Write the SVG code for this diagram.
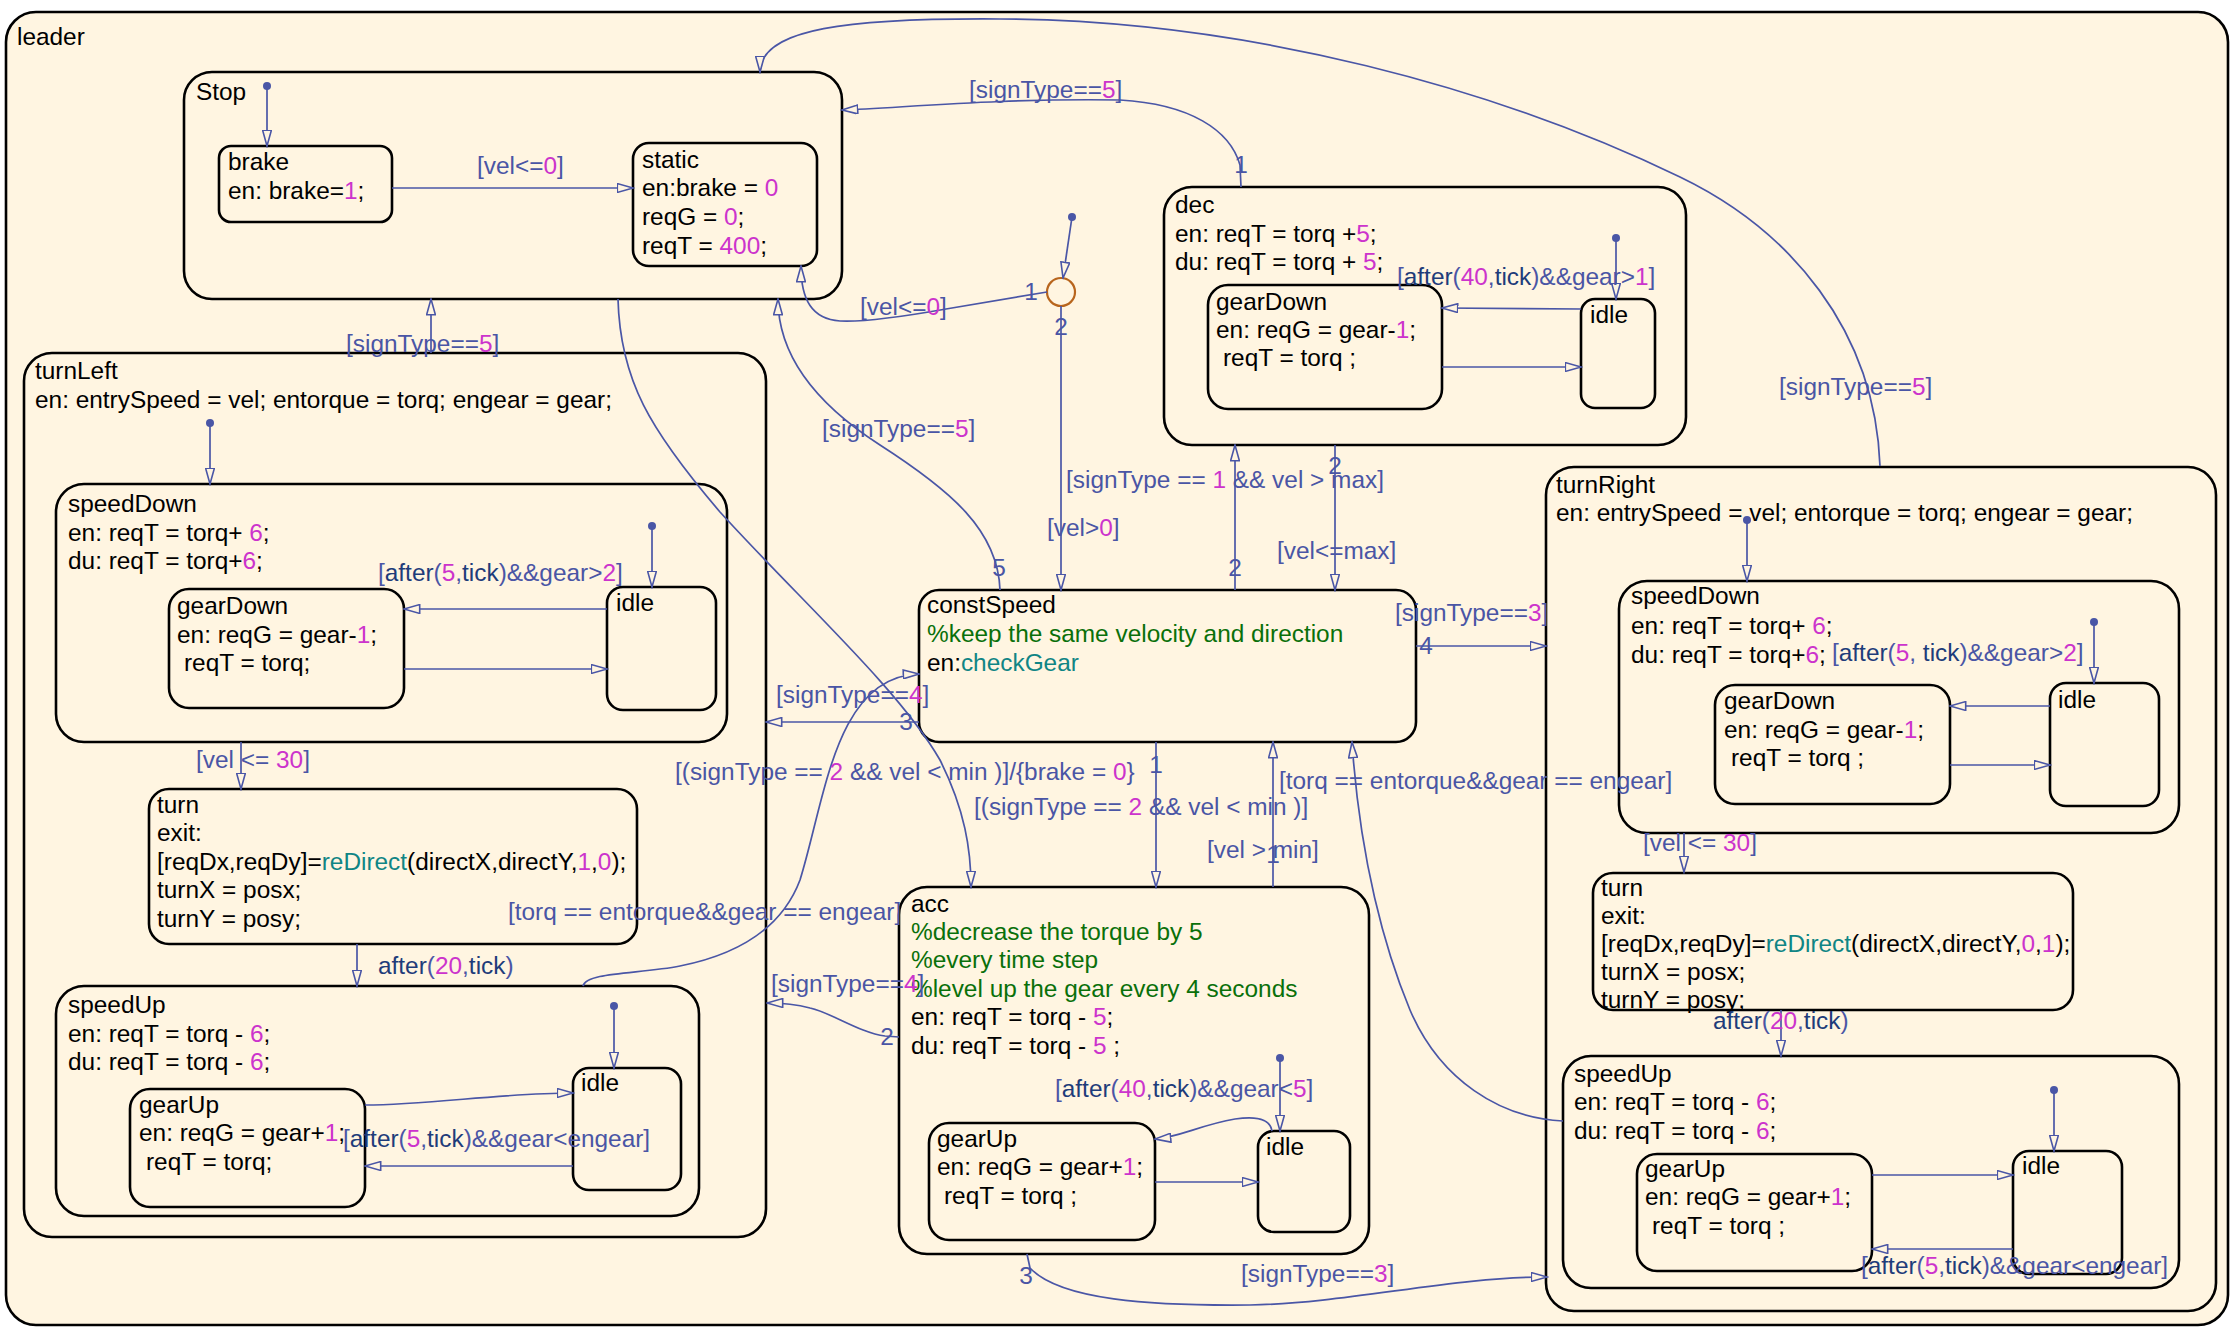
<svg xmlns="http://www.w3.org/2000/svg" width="2239" height="1337" viewBox="0 0 2239 1337">
<style>
text{font-family:"Liberation Sans",Arial,sans-serif;font-size:24.4px;fill:#000}
.st{fill:#FFF5E1;stroke:#000;stroke-width:2.6}
.c{fill:none;stroke:#4A56A6;stroke-width:1.7}
.l{fill:#4A55A5}
.num{fill:#4A55A5;text-anchor:middle}
.n{fill:#CC33CC}
.g{fill:#0A700A}
.f{fill:#108585}
.k{fill:#1E3C7A}
.dot{fill:#4A56A6}
.jn{fill:#FFF5E1;stroke:#B8651D;stroke-width:2.2}
</style>
<defs>
<marker id="a" viewBox="0 0 18 10" markerWidth="18" markerHeight="10" refX="16.5" refY="5" orient="auto" markerUnits="userSpaceOnUse">
<path d="M0.8,0.6 L16.5,5 L0.8,9.4 z" fill="#FFF5E1" stroke="#4A56A6" stroke-width="1.6"/>
</marker>
</defs>
<rect x="0" y="0" width="2239" height="1337" fill="#fff"/>
<g id="leader">
<rect class="st" x="6" y="12" width="2222" height="1313" rx="30"/>
<text x="17" y="45">leader</text>
</g>
<g id="Stop">
<rect class="st" x="184" y="72" width="658" height="227" rx="28"/>
<text x="196" y="100">Stop</text>
</g>
<g id="brake">
<rect class="st" x="219" y="146" width="173" height="76" rx="12"/>
<text x="228" y="170">brake</text>
<text x="228" y="199">en: brake=<tspan class="n">1</tspan>;</text>
</g>
<g id="static">
<rect class="st" x="633" y="143" width="184" height="123" rx="16"/>
<text x="642" y="168">static</text>
<text x="642" y="196">en:brake = <tspan class="n">0</tspan></text>
<text x="642" y="225">reqG = <tspan class="n">0</tspan>;</text>
<text x="642" y="254">reqT = <tspan class="n">400</tspan>;</text>
</g>
<g id="junction">
<circle class="jn" cx="1061" cy="292" r="14"/>
</g>
<g id="dec">
<rect class="st" x="1164" y="187" width="522" height="258" rx="28"/>
<text x="1175" y="213">dec</text>
<text x="1175" y="242">en: reqT = torq +<tspan class="n">5</tspan>;</text>
<text x="1175" y="270">du: reqT = torq + <tspan class="n">5</tspan>;</text>
</g>
<g id="dec_gearDown">
<rect class="st" x="1208" y="285" width="234" height="124" rx="20"/>
<text x="1216" y="310">gearDown</text>
<text x="1216" y="338">en: reqG = gear-<tspan class="n">1</tspan>;</text>
<text x="1223" y="366">reqT = torq ;</text>
</g>
<g id="dec_idle">
<rect class="st" x="1581" y="299" width="74" height="109" rx="14"/>
<text x="1590" y="323">idle</text>
</g>
<g id="constSpeed">
<rect class="st" x="919" y="590" width="497" height="152" rx="20"/>
<text x="927" y="613">constSpeed</text>
<text x="927" y="642" class="g">%keep the same velocity and direction</text>
<text x="927" y="671">en:<tspan class="f">checkGear</tspan></text>
</g>
<g id="turnLeft">
<rect class="st" x="24" y="353" width="742" height="884" rx="28"/>
<text x="35" y="379">turnLeft</text>
<text x="35" y="408">en: entrySpeed = vel; entorque = torq; engear = gear;</text>
</g>
<g id="turnLeft_speedDown">
<rect class="st" x="56" y="484" width="671" height="258" rx="28"/>
<text x="68" y="512">speedDown</text>
<text x="68" y="541">en: reqT = torq+ <tspan class="n">6</tspan>;</text>
<text x="68" y="569">du: reqT = torq+<tspan class="n">6</tspan>;</text>
</g>
<g id="turnLeft_gearDown">
<rect class="st" x="169" y="589" width="235" height="119" rx="20"/>
<text x="177" y="614">gearDown</text>
<text x="177" y="643">en: reqG = gear-<tspan class="n">1</tspan>;</text>
<text x="184" y="671">reqT = torq;</text>
</g>
<g id="turnLeft_idle1">
<rect class="st" x="607" y="587" width="109" height="123" rx="16"/>
<text x="616" y="611">idle</text>
</g>
<g id="turnLeft_turn">
<rect class="st" x="149" y="789" width="488" height="155" rx="20"/>
<text x="157" y="813">turn</text>
<text x="157" y="841">exit:</text>
<text x="157" y="870">[reqDx,reqDy]=<tspan class="f">reDirect</tspan>(directX,directY,<tspan class="n">1</tspan>,<tspan class="n">0</tspan>);</text>
<text x="157" y="898">turnX = posx;</text>
<text x="157" y="927">turnY = posy;</text>
</g>
<g id="turnLeft_speedUp">
<rect class="st" x="56" y="986" width="643" height="230" rx="28"/>
<text x="68" y="1013">speedUp</text>
<text x="68" y="1042">en: reqT = torq - <tspan class="n">6</tspan>;</text>
<text x="68" y="1070">du: reqT = torq - <tspan class="n">6</tspan>;</text>
</g>
<g id="turnLeft_gearUp">
<rect class="st" x="130" y="1089" width="235" height="118" rx="20"/>
<text x="139" y="1113">gearUp</text>
<text x="139" y="1141">en: reqG = gear+<tspan class="n">1</tspan>;</text>
<text x="146" y="1170">reqT = torq;</text>
</g>
<g id="turnLeft_idle2">
<rect class="st" x="573" y="1068" width="108" height="122" rx="16"/>
<text x="581" y="1091">idle</text>
</g>
<g id="acc">
<rect class="st" x="899" y="887" width="470" height="367" rx="28"/>
<text x="911" y="912">acc</text>
<text x="911" y="940" class="g">%decrease the torque by 5</text>
<text x="911" y="968" class="g">%every time step</text>
<text x="911" y="997" class="g">%level up the gear every 4 seconds</text>
<text x="911" y="1025">en: reqT = torq - <tspan class="n">5</tspan>;</text>
<text x="911" y="1054">du: reqT = torq - <tspan class="n">5</tspan> ;</text>
</g>
<g id="acc_gearUp">
<rect class="st" x="929" y="1123" width="226" height="117" rx="20"/>
<text x="937" y="1147">gearUp</text>
<text x="937" y="1175">en: reqG = gear+<tspan class="n">1</tspan>;</text>
<text x="944" y="1204">reqT = torq ;</text>
</g>
<g id="acc_idle">
<rect class="st" x="1258" y="1131" width="92" height="101" rx="16"/>
<text x="1266" y="1155">idle</text>
</g>
<g id="turnRight">
<rect class="st" x="1546" y="467" width="670" height="844" rx="28"/>
<text x="1556" y="493">turnRight</text>
<text x="1556" y="521">en: entrySpeed = vel; entorque = torq; engear = gear;</text>
</g>
<g id="turnRight_speedDown">
<rect class="st" x="1619" y="581" width="560" height="252" rx="28"/>
<text x="1631" y="604">speedDown</text>
<text x="1631" y="634">en: reqT = torq+ <tspan class="n">6</tspan>;</text>
<text x="1631" y="663">du: reqT = torq+<tspan class="n">6</tspan>;</text>
</g>
<g id="turnRight_gearDown">
<rect class="st" x="1715" y="685" width="235" height="119" rx="20"/>
<text x="1724" y="709">gearDown</text>
<text x="1724" y="738">en: reqG = gear-<tspan class="n">1</tspan>;</text>
<text x="1731" y="766">reqT = torq ;</text>
</g>
<g id="turnRight_idle1">
<rect class="st" x="2050" y="683" width="109" height="123" rx="16"/>
<text x="2058" y="708">idle</text>
</g>
<g id="turnRight_turn">
<rect class="st" x="1593" y="873" width="480" height="137" rx="20"/>
<text x="1601" y="896">turn</text>
<text x="1601" y="924">exit:</text>
<text x="1601" y="952">[reqDx,reqDy]=<tspan class="f">reDirect</tspan>(directX,directY,<tspan class="n">0</tspan>,<tspan class="n">1</tspan>);</text>
<text x="1601" y="980">turnX = posx;</text>
<text x="1601" y="1008">turnY = posy;</text>
</g>
<g id="turnRight_speedUp">
<rect class="st" x="1563" y="1056" width="616" height="232" rx="28"/>
<text x="1574" y="1082">speedUp</text>
<text x="1574" y="1110">en: reqT = torq - <tspan class="n">6</tspan>;</text>
<text x="1574" y="1139">du: reqT = torq - <tspan class="n">6</tspan>;</text>
</g>
<g id="turnRight_gearUp">
<rect class="st" x="1637" y="1154" width="235" height="117" rx="20"/>
<text x="1645" y="1177">gearUp</text>
<text x="1645" y="1205">en: reqG = gear+<tspan class="n">1</tspan>;</text>
<text x="1652" y="1234">reqT = torq ;</text>
</g>
<g id="turnRight_idle2">
<rect class="st" x="2013" y="1151" width="109" height="123" rx="16"/>
<text x="2022" y="1174">idle</text>
</g>
<g id="connectors">
<path class="c" d="M267,86 L267,146" marker-end="url(#a)"/>
<path class="c" d="M392,188 L633,188" marker-end="url(#a)"/>
<path class="c" d="M1072,217 L1063,278" marker-end="url(#a)"/>
<path class="c" d="M1047,292 L946,309 C890,319 860,322 840,321 C812,319 801,300 801,266" marker-end="url(#a)"/>
<path class="c" d="M1061,306 L1061,590" marker-end="url(#a)"/>
<path class="c" d="M1241,187 L1240,165 C1230,130 1190,104 1120,100 C1000,98 900,108 842,110" marker-end="url(#a)"/>
<path class="c" d="M1880,466 C1875,330 1790,230 1680,177 C1500,90 1250,20 1000,19 C850,18 760,28 760,72" marker-end="url(#a)"/>
<path class="c" d="M431,353 L431,299" marker-end="url(#a)"/>
<path class="c" d="M1000,590 C998,530 950,490 880,445 C810,400 778,350 778,299" marker-end="url(#a)"/>
<path class="c" d="M618,299 C620,380 650,430 720,512 C800,600 900,690 940,760 C965,810 971,850 971,887" marker-end="url(#a)"/>
<path class="c" d="M1235,590 L1235,445" marker-end="url(#a)"/>
<path class="c" d="M1335,445 L1335,590" marker-end="url(#a)"/>
<path class="c" d="M1416,646 L1546,646" marker-end="url(#a)"/>
<path class="c" d="M919,722 L766,722" marker-end="url(#a)"/>
<path class="c" d="M1156,742 L1156,887" marker-end="url(#a)"/>
<path class="c" d="M1273,887 L1273,742" marker-end="url(#a)"/>
<path class="c" d="M1563,1121 C1500,1118 1440,1080 1410,1010 C1385,950 1360,860 1352,742" marker-end="url(#a)"/>
<path class="c" d="M583,986 C586,972 640,974 680,966 C750,952 785,920 800,880 C825,800 835,676 919,674" marker-end="url(#a)"/>
<path class="c" d="M899,1037 L885,1036 C860,1033 830,1012 810,1008 C795,1004 780,1003 767,1003" marker-end="url(#a)"/>
<path class="c" d="M1027,1254 L1030,1268 C1060,1300 1150,1306 1250,1305 C1350,1303 1450,1277 1547,1277" marker-end="url(#a)"/>
<path class="c" d="M210,423 L210,484" marker-end="url(#a)"/>
<path class="c" d="M652,526 L652,587" marker-end="url(#a)"/>
<path class="c" d="M607,609 L404,609" marker-end="url(#a)"/>
<path class="c" d="M404,669 L607,669" marker-end="url(#a)"/>
<path class="c" d="M241,742 L241,789" marker-end="url(#a)"/>
<path class="c" d="M357,944 L357,986" marker-end="url(#a)"/>
<path class="c" d="M614,1006 L614,1068" marker-end="url(#a)"/>
<path class="c" d="M365,1105 C430,1105 500,1093 573,1093" marker-end="url(#a)"/>
<path class="c" d="M573,1166 L365,1166" marker-end="url(#a)"/>
<path class="c" d="M1616,238 L1616,299" marker-end="url(#a)"/>
<path class="c" d="M1581,309 L1442,308" marker-end="url(#a)"/>
<path class="c" d="M1442,367 L1581,367" marker-end="url(#a)"/>
<path class="c" d="M1280,1058 L1280,1131" marker-end="url(#a)"/>
<path class="c" d="M1272,1131 C1270,1118 1255,1116 1235,1119 C1200,1125 1180,1137 1155,1139" marker-end="url(#a)"/>
<path class="c" d="M1155,1182 L1258,1182" marker-end="url(#a)"/>
<path class="c" d="M1747,520 L1747,581" marker-end="url(#a)"/>
<path class="c" d="M2094,622 L2094,683" marker-end="url(#a)"/>
<path class="c" d="M2050,706 L1950,706" marker-end="url(#a)"/>
<path class="c" d="M1950,765 L2050,765" marker-end="url(#a)"/>
<path class="c" d="M1684,833 L1684,872" marker-end="url(#a)"/>
<path class="c" d="M1781,1010 L1781,1056" marker-end="url(#a)"/>
<path class="c" d="M2054,1090 L2054,1151" marker-end="url(#a)"/>
<path class="c" d="M1872,1175 L2013,1175" marker-end="url(#a)"/>
<path class="c" d="M2013,1249 L1872,1249" marker-end="url(#a)"/>
<circle class="dot" cx="267" cy="86" r="4"/>
<circle class="dot" cx="1072" cy="217" r="4"/>
<circle class="dot" cx="210" cy="423" r="4"/>
<circle class="dot" cx="652" cy="526" r="4"/>
<circle class="dot" cx="614" cy="1006" r="4"/>
<circle class="dot" cx="1616" cy="238" r="4"/>
<circle class="dot" cx="1280" cy="1058" r="4"/>
<circle class="dot" cx="1747" cy="520" r="4"/>
<circle class="dot" cx="2094" cy="622" r="4"/>
<circle class="dot" cx="2054" cy="1090" r="4"/>
</g>
<g id="labels">
<text class="l" x="477" y="174">[vel&lt;=<tspan class="n">0</tspan>]</text>
<text class="l" x="860" y="315">[vel&lt;=<tspan class="n">0</tspan>]</text>
<text class="l" x="1047" y="536">[vel&gt;<tspan class="n">0</tspan>]</text>
<text class="l" x="969" y="98">[signType==<tspan class="n">5</tspan>]</text>
<text class="l" x="1779" y="395">[signType==<tspan class="n">5</tspan>]</text>
<text class="l" x="346" y="352">[signType==<tspan class="n">5</tspan>]</text>
<text class="l" x="822" y="437">[signType==<tspan class="n">5</tspan>]</text>
<text class="l" x="675" y="780">[(signType == <tspan class="n">2</tspan> &amp;&amp; vel &lt; min )]/{brake = <tspan class="n">0</tspan>}</text>
<text class="l" x="1066" y="488">[signType == <tspan class="n">1</tspan> &amp;&amp; vel &gt; max]</text>
<text class="l" x="1277" y="559">[vel&lt;=max]</text>
<text class="l" x="1395" y="621">[signType==<tspan class="n">3</tspan>]</text>
<text class="l" x="776" y="703">[signType==<tspan class="n">4</tspan>]</text>
<text class="l" x="974" y="815">[(signType == <tspan class="n">2</tspan> &amp;&amp; vel &lt; min )]</text>
<text class="l" x="1207" y="858">[vel &gt; min]</text>
<text class="l" x="1279" y="789">[torq == entorque&amp;&amp;gear == engear]</text>
<text class="l" x="508" y="920">[torq == entorque&amp;&amp;gear == engear]</text>
<text class="l" x="771" y="992">[signType==<tspan class="n">4</tspan>]</text>
<text class="l" x="1241" y="1282">[signType==<tspan class="n">3</tspan>]</text>
<text class="l" x="1397" y="285">[<tspan class="k">after</tspan>(<tspan class="n">40</tspan>,<tspan class="k">tick</tspan>)&amp;&amp;gear&gt;<tspan class="n">1</tspan>]</text>
<text class="l" x="378" y="581">[<tspan class="k">after</tspan>(<tspan class="n">5</tspan>,<tspan class="k">tick</tspan>)&amp;&amp;gear&gt;<tspan class="n">2</tspan>]</text>
<text class="l" x="196" y="768">[vel &lt;= <tspan class="n">30</tspan>]</text>
<text class="l" x="378" y="974"><tspan class="k">after</tspan>(<tspan class="n">20</tspan>,<tspan class="k">tick</tspan>)</text>
<text class="l" x="343" y="1147">[<tspan class="k">after</tspan>(<tspan class="n">5</tspan>,<tspan class="k">tick</tspan>)&amp;&amp;gear&lt;engear]</text>
<text class="l" x="1055" y="1097">[<tspan class="k">after</tspan>(<tspan class="n">40</tspan>,<tspan class="k">tick</tspan>)&amp;&amp;gear&lt;<tspan class="n">5</tspan>]</text>
<text class="l" x="1832" y="661">[<tspan class="k">after</tspan>(<tspan class="n">5</tspan>, <tspan class="k">tick</tspan>)&amp;&amp;gear&gt;<tspan class="n">2</tspan>]</text>
<text class="l" x="1643" y="851">[vel &lt;= <tspan class="n">30</tspan>]</text>
<text class="l" x="1713" y="1029"><tspan class="k">after</tspan>(<tspan class="n">20</tspan>,<tspan class="k">tick</tspan>)</text>
<text class="l" x="1861" y="1274">[<tspan class="k">after</tspan>(<tspan class="n">5</tspan>,<tspan class="k">tick</tspan>)&amp;&amp;gear&lt;engear]</text>
<text class="num" x="1031" y="300">1</text>
<text class="num" x="1061" y="335">2</text>
<text class="num" x="1241" y="173">1</text>
<text class="num" x="999" y="576">5</text>
<text class="num" x="1235" y="576">2</text>
<text class="num" x="1335" y="474">2</text>
<text class="num" x="1426" y="654">4</text>
<text class="num" x="906" y="730">3</text>
<text class="num" x="1156" y="773">1</text>
<text class="num" x="1273" y="863">1</text>
<text class="num" x="887" y="1045">2</text>
<text class="num" x="1026" y="1284">3</text>
</g>
</svg>
